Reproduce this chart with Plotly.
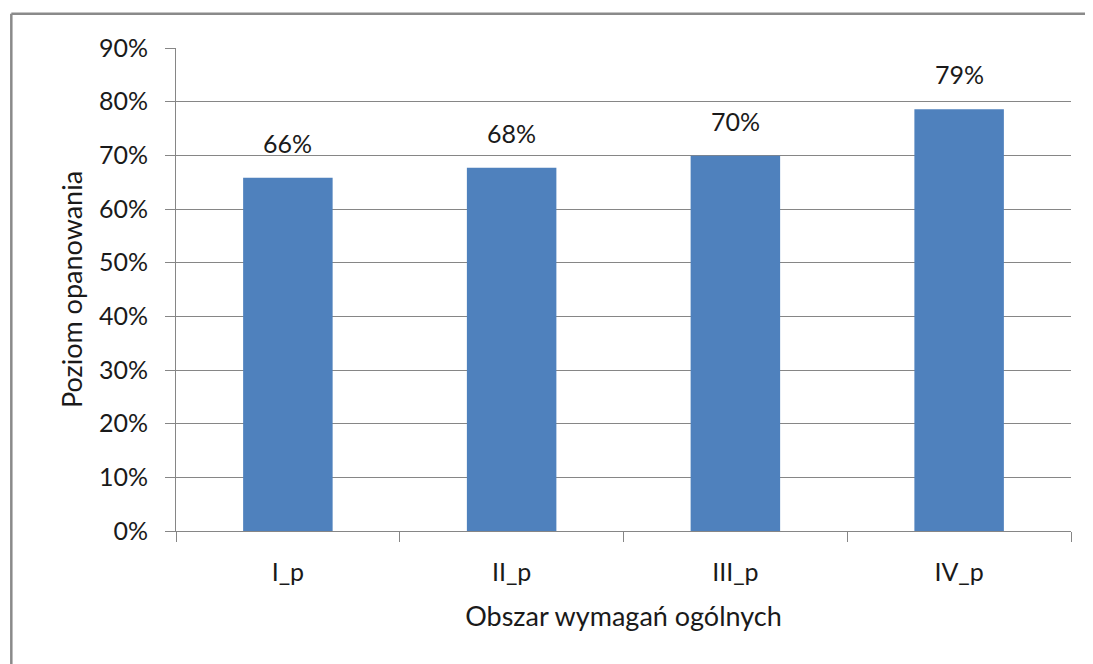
import plotly.graph_objects as go

categories = ["I_p", "II_p", "III_p", "IV_p"]
values = [0.658, 0.677, 0.699, 0.786]
labels = ["66%", "68%", "70%", "79%"]
y_ticks = [0, 0.1, 0.2, 0.3, 0.4, 0.5, 0.6, 0.7, 0.8, 0.9]
y_tick_labels = ["0%", "10%", "20%", "30%", "40%", "50%", "60%", "70%", "80%", "90%"]

FONT = "Lato, Open Sans, sans-serif"
GRID = "#868686"
TXT = "#1a1a1a"

fig = go.Figure(go.Bar(
    x=categories, y=values,
    marker=dict(color="#4F81BD", line=dict(width=0)),
    width=0.4, hoverinfo="skip",
))
for c, v, t in zip(categories, values, labels):
    fig.add_annotation(x=c, y=v, text=t, showarrow=False, yanchor="bottom",
                       yshift=18, font=dict(family=FONT, size=25, color=TXT))

fig.update_layout(
    width=1085, height=656,
    margin=dict(l=168, r=22, t=40, b=133, pad=0),
    paper_bgcolor="white", plot_bgcolor="white",
    showlegend=False,
    font=dict(family=FONT, size=25, color=TXT),
)
fig.update_yaxes(
    range=[0, 0.9], tickvals=y_ticks, ticktext=y_tick_labels,
    showgrid=True, gridcolor=GRID, gridwidth=1,
    showline=True, linecolor=GRID, linewidth=1,
    ticks="outside", ticklen=10, tickcolor=GRID, ticklabelstandoff=12,
    tickfont=dict(size=25), zeroline=False,
    title=dict(text="Poziom opanowania", font=dict(size=27), standoff=8),
)
fig.update_xaxes(
    showline=True, linecolor=GRID, linewidth=1,
    ticks="outside", ticklen=10, tickcolor=GRID, tickson="boundaries",
    ticklabelstandoff=19,
    tickfont=dict(size=25),
    title=dict(text="Obszar wymagań ogólnych", font=dict(size=27), standoff=22),
)
# outer chart-area frame (top and left edges visible in the picture)
fig.add_shape(type="line", xref="paper", yref="paper",
              x0=-0.184, y0=1.071, x1=1.1, y1=1.071,
              line=dict(color="#8a8a8a", width=2.5), layer="above")
fig.add_shape(type="line", xref="paper", yref="paper",
              x0=-0.184, y0=-0.5, x1=-0.184, y1=1.071,
              line=dict(color="#8a8a8a", width=2.5), layer="above")

fig.write_html("out.html")
